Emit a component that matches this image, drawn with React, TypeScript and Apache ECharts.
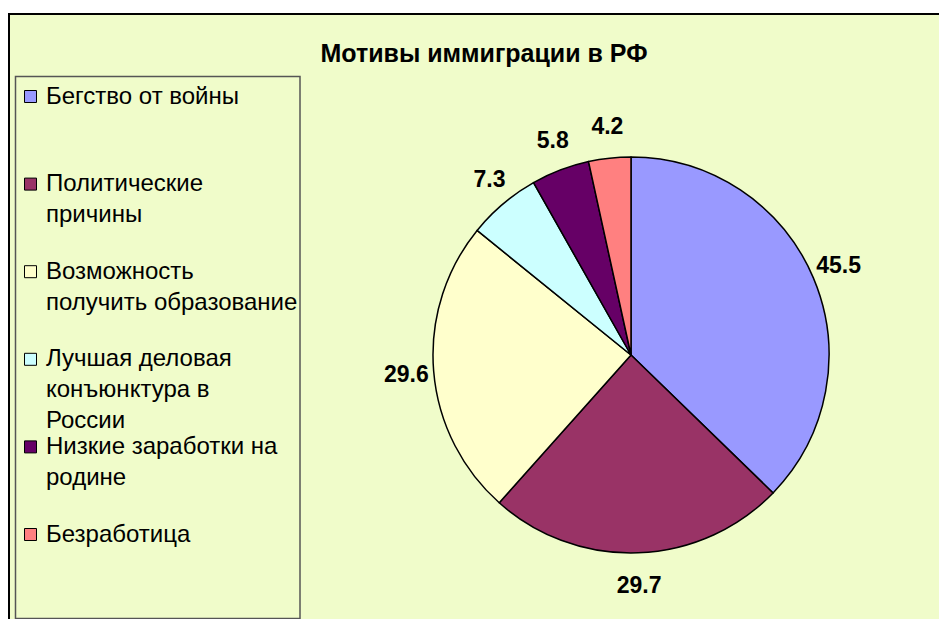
import React, { useEffect, useRef } from "react";
import * as echarts from "echarts";

const title = "Мотивы иммиграции в РФ";
const categories = [
  "Бегство от войны",
  "Политические\nпричины",
  "Возможность\nполучить образование",
  "Лучшая деловая\nконъюнктура в\nРоссии",
  "Низкие заработки на\nродине",
  "Безработица",
];
const values = [45.5, 29.7, 29.6, 7.3, 5.8, 4.2];
const colors = ["#9999FF", "#993366", "#FFFFCC", "#CCFFFF", "#660066", "#FF8080"];

const BG = "#F0FCCA";
const FONT = "'Liberation Sans', Arial, sans-serif";
const CX = 631;
const CY = 355;
const R = 198;
const LRX = 203;
const LRY = 219;
const LEG_TOP = 97;
const LEG_STEP = 87.6;
const LEG_LH = 31;

export default function App() {
  const ref = useRef<HTMLDivElement>(null);
  useEffect(() => {
    if (!ref.current) return;
    const chart = echarts.init(ref.current, undefined, { renderer: "svg" });
    const total = values.reduce((a, b) => a + b, 0);
    const mids: number[] = [];
    let acc = 0;
    values.forEach((v) => {
      mids.push(((acc + v / 2) / total) * Math.PI * 2);
      acc += v;
    });

    const legendEls: any[] = [];
    categories.forEach((name, i) => {
      const cy = LEG_TOP + i * LEG_STEP;
      legendEls.push({
        type: "rect",
        z: 5,
        shape: { x: 24.5, y: cy - 6.5, width: 12, height: 12 },
        style: { fill: colors[i], stroke: "#000", lineWidth: 1 },
      });
      legendEls.push({
        type: "text",
        z: 5,
        x: 46,
        y: cy - LEG_LH / 2 - 2,
        style: {
          text: name,
          fill: "#000",
          font: `24px ${FONT}`,
          lineHeight: LEG_LH,
          textAlign: "left",
          textVerticalAlign: "top",
        },
      });
    });

    chart.setOption({
      animation: false,
      backgroundColor: "#fff",
      title: {
        text: title,
        left: 479,
        top: 35,
        textAlign: "center",
        textStyle: { fontFamily: FONT, fontSize: 25, fontWeight: "bold", color: "#000" },
      },
      graphic: [
        {
          type: "rect",
          z: 0,
          shape: { x: 9, y: 14, width: 960, height: 640 },
          style: { fill: BG, stroke: "#000", lineWidth: 2 },
        },
        {
          type: "rect",
          z: 1,
          shape: { x: 15.5, y: 76.5, width: 284.5, height: 542 },
          style: { fill: "none", stroke: "#555", lineWidth: 1.5 },
        },
        ...legendEls,
      ],
      series: [
        {
          type: "pie",
          z: 3,
          silent: true,
          center: [CX, CY],
          radius: R,
          startAngle: 90,
          clockwise: true,
          avoidLabelOverlap: false,
          data: categories.map((n, i) => ({ name: n, value: values[i], itemStyle: { color: colors[i] } })),
          itemStyle: { borderColor: "#000", borderWidth: 1.5 },
          label: {
            show: true,
            position: "outside",
            formatter: (p: any) => String(values[p.dataIndex]),
            fontFamily: FONT,
            fontSize: 23,
            fontWeight: "bold",
            color: "#000",
          },
          labelLine: { show: false },
          labelLayout: (p: any) => {
            const a = mids[p.dataIndex];
            const dx = Math.sin(a);
            const dy = -Math.cos(a);
            const w = p.labelRect.width;
            const h = p.labelRect.height;
            return {
              x: CX + LRX * dx + (dx * w) / 2,
              y: CY + LRY * dy + (dy * h) / 2,
              align: "center",
              verticalAlign: "middle",
            };
          },
          emphasis: { disabled: true },
        },
      ],
    });
    return () => chart.dispose();
  }, []);
  return (
    <div
      ref={ref}
      style={{ position: "absolute", left: 0, top: 0, width: 939, height: 619 }}
    />
  );
}
